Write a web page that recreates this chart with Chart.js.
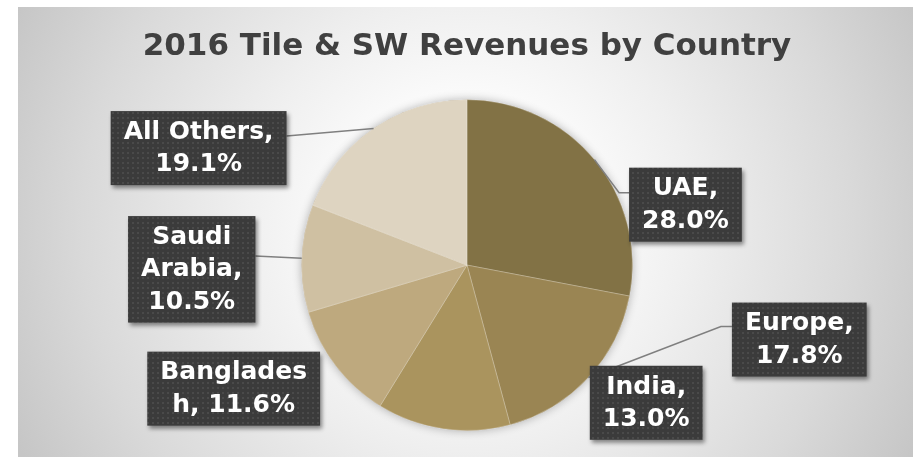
<!DOCTYPE html>
<html>
<head>
<meta charset="utf-8">
<title>2016 Tile & SW Revenues by Country</title>
<script src="https://cdn.jsdelivr.net/npm/chart.js@4.4.0/dist/chart.umd.min.js"></script>
<style>
  html, body { margin: 0; padding: 0; background: #ffffff; }
  #wrap { width: 916px; height: 457px; }
</style>
</head>
<body>
<div id="wrap"><canvas id="revenueChart" width="916" height="457"></canvas></div>
<script>
// Data
const categories = ["UAE", "Europe", "India", "Bangladesh", "Saudi Arabia", "All Others"];
const shares = [28.0, 17.8, 13.0, 11.6, 10.5, 19.1];
const sliceColors = ["#827245", "#9a8553", "#aa945e", "#bea97e", "#cfc0a2", "#ded4c1"];
const chartTitle = "2016 Tile & SW Revenues by Country";

// Where each label box sits, relative to the middle of its slice's edge
const labelOffsets = [
  { dx: 91, dy: 45, leader: "left", stub: 10, ay: 25 },
  { dx: 211, dy: -38, leader: "left", stub: 11, ay: 24 },
  { dx: 203, dy: -26, leader: null },
  { dx: -102, dy: 23, leader: null },
  { dx: -110, dy: 11, leader: "right", stub: 0, ay: 40 },
  { dx: -175, dy: 19.5, leader: "right", stub: 0, ay: 25 },
];

const FONT = "'DejaVu Sans', Verdana, sans-serif";

// dark dotted fill used by the label boxes
const dotPattern = (() => {
  const c = document.createElement("canvas");
  c.width = 5;
  c.height = 5;
  const g = c.getContext("2d");
  g.fillStyle = "#3b3b3b";
  g.fillRect(0, 0, 5, 5);
  g.fillStyle = "#4a4a4a";
  g.fillRect(2, 2, 2, 2);
  return c;
})();

function wrapText(ctx, text, maxWidth) {
  const lines = [];
  let line = "";
  text.split(" ").forEach((word) => {
    const test = line ? line + " " + word : word;
    if (ctx.measureText(test).width <= maxWidth) {
      line = test;
      return;
    }
    if (line) lines.push(line);
    line = "";
    for (const ch of word) {
      if (line && ctx.measureText(line + ch).width > maxWidth) {
        lines.push(line);
        line = "";
      }
      line += ch;
    }
  });
  if (line) lines.push(line);
  return lines;
}

const backgroundPlugin = {
  id: "panelBackground",
  beforeDraw(chart) {
    const ctx = chart.ctx;
    ctx.save();
    ctx.fillStyle = "#ffffff";
    ctx.fillRect(0, 0, chart.width, chart.height);
    const grad = ctx.createRadialGradient(467, 225, 0, 467, 225, 500);
    grad.addColorStop(0, "#ffffff");
    grad.addColorStop(0.25, "#fbfbfb");
    grad.addColorStop(0.45, "#efefef");
    grad.addColorStop(0.77, "#d9d9d9");
    grad.addColorStop(1, "#c6c6c6");
    ctx.fillStyle = grad;
    ctx.fillRect(18, 7, 895, 450);
    ctx.restore();
  },
  beforeDatasetsDraw(chart) {
    // soft shadow behind the pie
    const arc = chart.getDatasetMeta(0).data[0];
    if (!arc) return;
    const p = arc.getProps(["x", "y", "outerRadius"], true);
    const ctx = chart.ctx;
    ctx.save();
    ctx.shadowColor = "rgba(0, 0, 0, 0.3)";
    ctx.shadowBlur = 10;
    ctx.beginPath();
    ctx.arc(p.x, p.y, p.outerRadius, 0, Math.PI * 2);
    ctx.fillStyle = "#a9936a";
    ctx.fill();
    ctx.restore();
  },
};

const labelPlugin = {
  id: "calloutLabels",
  afterDatasetsDraw(chart) {
    const ctx = chart.ctx;
    const meta = chart.getDatasetMeta(0);
    ctx.save();
    ctx.font = "bold 25px " + FONT;

    const boxes = meta.data.map((arc, i) => {
      const p = arc.getProps(["x", "y", "startAngle", "endAngle", "outerRadius"], true);
      const mid = (p.startAngle + p.endAngle) / 2;
      const ex = p.x + Math.cos(mid) * p.outerRadius;
      const ey = p.y + Math.sin(mid) * p.outerRadius;
      const text = `${categories[i]}, ${shares[i].toFixed(1)}%`;
      const lines = wrapText(ctx, text, 155);
      const w = Math.max(...lines.map((l) => ctx.measureText(l).width)) + 26;
      const h = lines.length * 32.5 + 9;
      const o = labelOffsets[i];
      return { ex, ey, lines, w, h, o, bx: ex + o.dx - w / 2, by: ey + o.dy - h / 2 };
    });

    // leader lines go under the boxes
    ctx.strokeStyle = "#7f7f7f";
    ctx.lineWidth = 1.5;
    boxes.forEach((b) => {
      if (!b.o.leader) return;
      const ax = b.o.leader === "left" ? b.bx : b.bx + b.w;
      const ay = b.by + b.o.ay;
      const sx = b.o.leader === "left" ? ax - b.o.stub : ax + b.o.stub;
      ctx.beginPath();
      ctx.moveTo(ax, ay);
      ctx.lineTo(sx, ay);
      ctx.lineTo(b.ex, b.ey);
      ctx.stroke();
    });

    const pattern = ctx.createPattern(dotPattern, "repeat");
    boxes.forEach((b) => {
      ctx.save();
      ctx.shadowColor = "rgba(0, 0, 0, 0.45)";
      ctx.shadowBlur = 4;
      ctx.shadowOffsetX = 2;
      ctx.shadowOffsetY = 3;
      ctx.fillStyle = pattern;
      ctx.fillRect(b.bx, b.by, b.w, b.h);
      ctx.restore();

      ctx.fillStyle = "#ffffff";
      ctx.textAlign = "center";
      ctx.textBaseline = "middle";
      b.lines.forEach((line, j) => {
        ctx.fillText(line, b.bx + b.w / 2, b.by + 5 + 32.5 * (j + 0.5));
      });
    });
    ctx.restore();
  },
};

new Chart(document.getElementById("revenueChart"), {
  type: "pie",
  data: {
    labels: categories,
    datasets: [
      {
        data: shares,
        backgroundColor: sliceColors,
        borderColor: "rgba(255, 255, 255, 0.25)",
        borderWidth: 1,
      },
    ],
  },
  options: {
    responsive: false,
    animation: false,
    layout: { padding: { left: 18, right: 0, top: 0, bottom: 26 } },
    plugins: {
      legend: { display: false },
      tooltip: { enabled: false },
      title: {
        display: true,
        text: chartTitle,
        color: "#404040",
        font: { family: FONT, size: 31, weight: "bold" },
        padding: { top: 28, bottom: 34 },
      },
    },
  },
  plugins: [backgroundPlugin, labelPlugin],
});
</script>
</body>
</html>
